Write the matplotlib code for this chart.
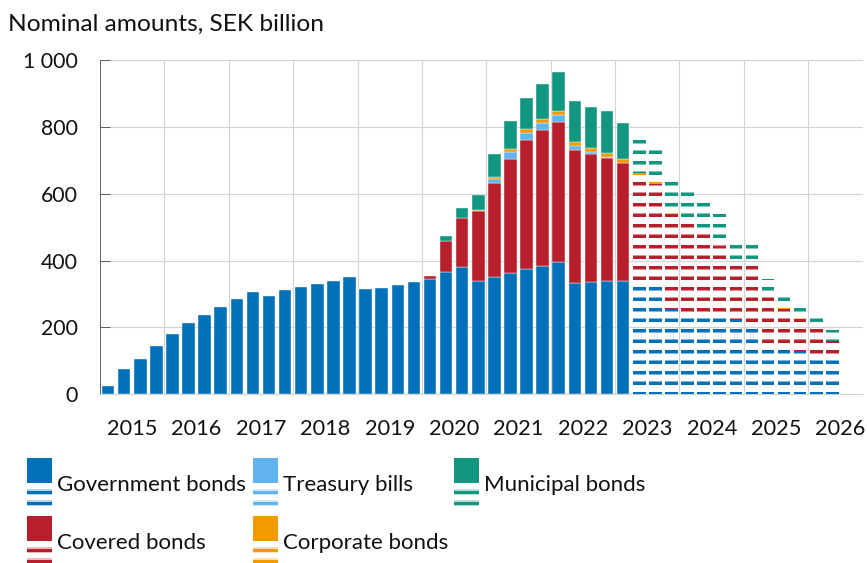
import matplotlib
matplotlib.use("Agg")
import matplotlib.pyplot as plt
from matplotlib.patches import Rectangle
import numpy as np

# ---------------- data (quarterly, 2015Q1 .. 2026Q2) ----------------
years = list(range(2015, 2027))
n_hist = 33  # 2015Q1 .. 2023Q1 are outcomes, the rest are forecasts

government = [25, 76, 106, 145, 180, 214, 236, 261, 286, 307, 294, 312,
              321, 331, 340, 351, 316, 319, 326, 335, 345, 365, 381, 339,
              351, 363, 375, 384, 396, 332, 336, 339, 339,
              335, 328, 255, 240, 240, 237, 222, 210, 148, 148, 130, 117, 107]
covered = [0] * 20 + [9, 95, 145, 209, 281, 341, 386, 406, 418, 400, 384, 368, 354,
                      320, 302, 285, 272, 252, 206, 178, 180, 157, 107, 94, 95, 53]
treasury = [0] * 24 + [11, 20, 21, 21, 20, 12, 5, 2, 0] + [0] * 13
corporate = [0] * 23 + [3, 8, 10, 11, 13, 13, 12, 12, 12, 10,
                        8, 10, 8, 5, 0, 5, 0, 3, 0, 2, 4, 0, 0]
municipal = [0] * 21 + [15, 30, 46, 67, 84, 92, 105, 116, 120, 122, 125, 110,
                        104, 97, 92, 89, 84, 90, 52, 59, 40, 41, 36, 21, 33]

names = ["Government bonds", "Covered bonds", "Treasury bills",
         "Corporate bonds", "Municipal bonds"]
colors = ["#0070B8", "#B81F2D", "#62B4EF", "#F39A00", "#11967F"]
series = [government, covered, treasury, corporate, municipal]

yticks = [0, 200, 400, 600, 800, 1000]

# ---------------- figure ----------------
W, H = 867, 563
DPI = 63.25
plt.rcParams["font.family"] = ["Lato", "DejaVu Sans"]
plt.rcParams["hatch.linewidth"] = 4.0


def pt(px):
    return px * 72.0 / DPI


fig = plt.figure(figsize=(W / DPI, H / DPI), dpi=DPI)
ax = fig.add_axes([100 / W, 1 - 394.3 / H, 763 / W, 334.3 / H])

n = len(government)
x = np.arange(n)
hist = x < n_hist
bottom = np.zeros(n)
bw = 0.78
for vals, color in zip(series, colors):
    v = np.array(vals, dtype=float)
    m = hist & (v > 0)
    ax.bar(x[m], v[m], bottom=bottom[m], width=bw, color=color,
           edgecolor="#f2f2f2", linewidth=0.5, zorder=3)
    m = (~hist) & (v > 0)
    ax.bar(x[m], v[m], bottom=bottom[m], width=bw, facecolor="none",
           edgecolor=color, linewidth=0, hatch="-", zorder=3)
    bottom += v

ax.set_ylim(0, 1000)
ax.set_xlim(-0.5, 46.9)
ax.set_yticks(yticks)
ax.set_yticklabels([f"{v:,}".replace(",", " ") for v in yticks])
ax.set_xticks([4 * k - 0.5 for k in range(1, 12)])
ax.set_xticklabels([])
ax.set_xticks([4 * k + 1.5 for k in range(len(years))], minor=True)
ax.set_xticklabels([str(y) for y in years], minor=True)

ax.set_axisbelow(True)
ax.grid(True, which="major", color="#d3d3d3", linewidth=1.3, zorder=0)

for s in ["top", "right"]:
    ax.spines[s].set_visible(False)
ax.spines["left"].set_color("#505050")
ax.spines["left"].set_linewidth(1.0)
ax.spines["bottom"].set_color("#d3d3d3")
ax.spines["bottom"].set_linewidth(1.3)

ax.tick_params(axis="y", direction="in", length=pt(10), width=1.0,
               color="#505050", labelsize=pt(21.2), pad=pt(22), labelcolor="#111111")
ax.tick_params(axis="x", which="both", length=0, labelsize=pt(21.8),
               pad=pt(25), labelcolor="#111111")

fig.text(8 / W, 1 - 31 / H, "Nominal amounts, SEK billion", fontsize=pt(24.5),
         ha="left", va="baseline", color="#111111")

# ---------------- legend (drawn manually) ----------------
legend_items = [("Government bonds", colors[0], 27, 458),
                ("Treasury bills", colors[2], 253, 458),
                ("Municipal bonds", colors[4], 454, 458),
                ("Covered bonds", colors[1], 27, 516),
                ("Corporate bonds", colors[3], 253, 516)]


def frect(xp, yp_top, wp, hp, **kw):
    r = Rectangle((xp / W, 1 - (yp_top + hp) / H), wp / W, hp / H,
                  transform=fig.transFigure, **kw)
    fig.add_artist(r)


for label, color, lx, ly in legend_items:
    frect(lx, ly, 25, 25, facecolor=color, edgecolor="none")
    for off in (31, 42):
        frect(lx, ly + off, 25, 6, facecolor=color, alpha=0.3, edgecolor="none")
        frect(lx, ly + off + 1.5, 25, 3, facecolor=color, edgecolor="none")
    fig.text((lx + 30) / W, 1 - (ly + 27) / H, label, fontsize=pt(22.2),
             ha="left", va="center", color="#111111")

fig.savefig("out.png", dpi=DPI)
